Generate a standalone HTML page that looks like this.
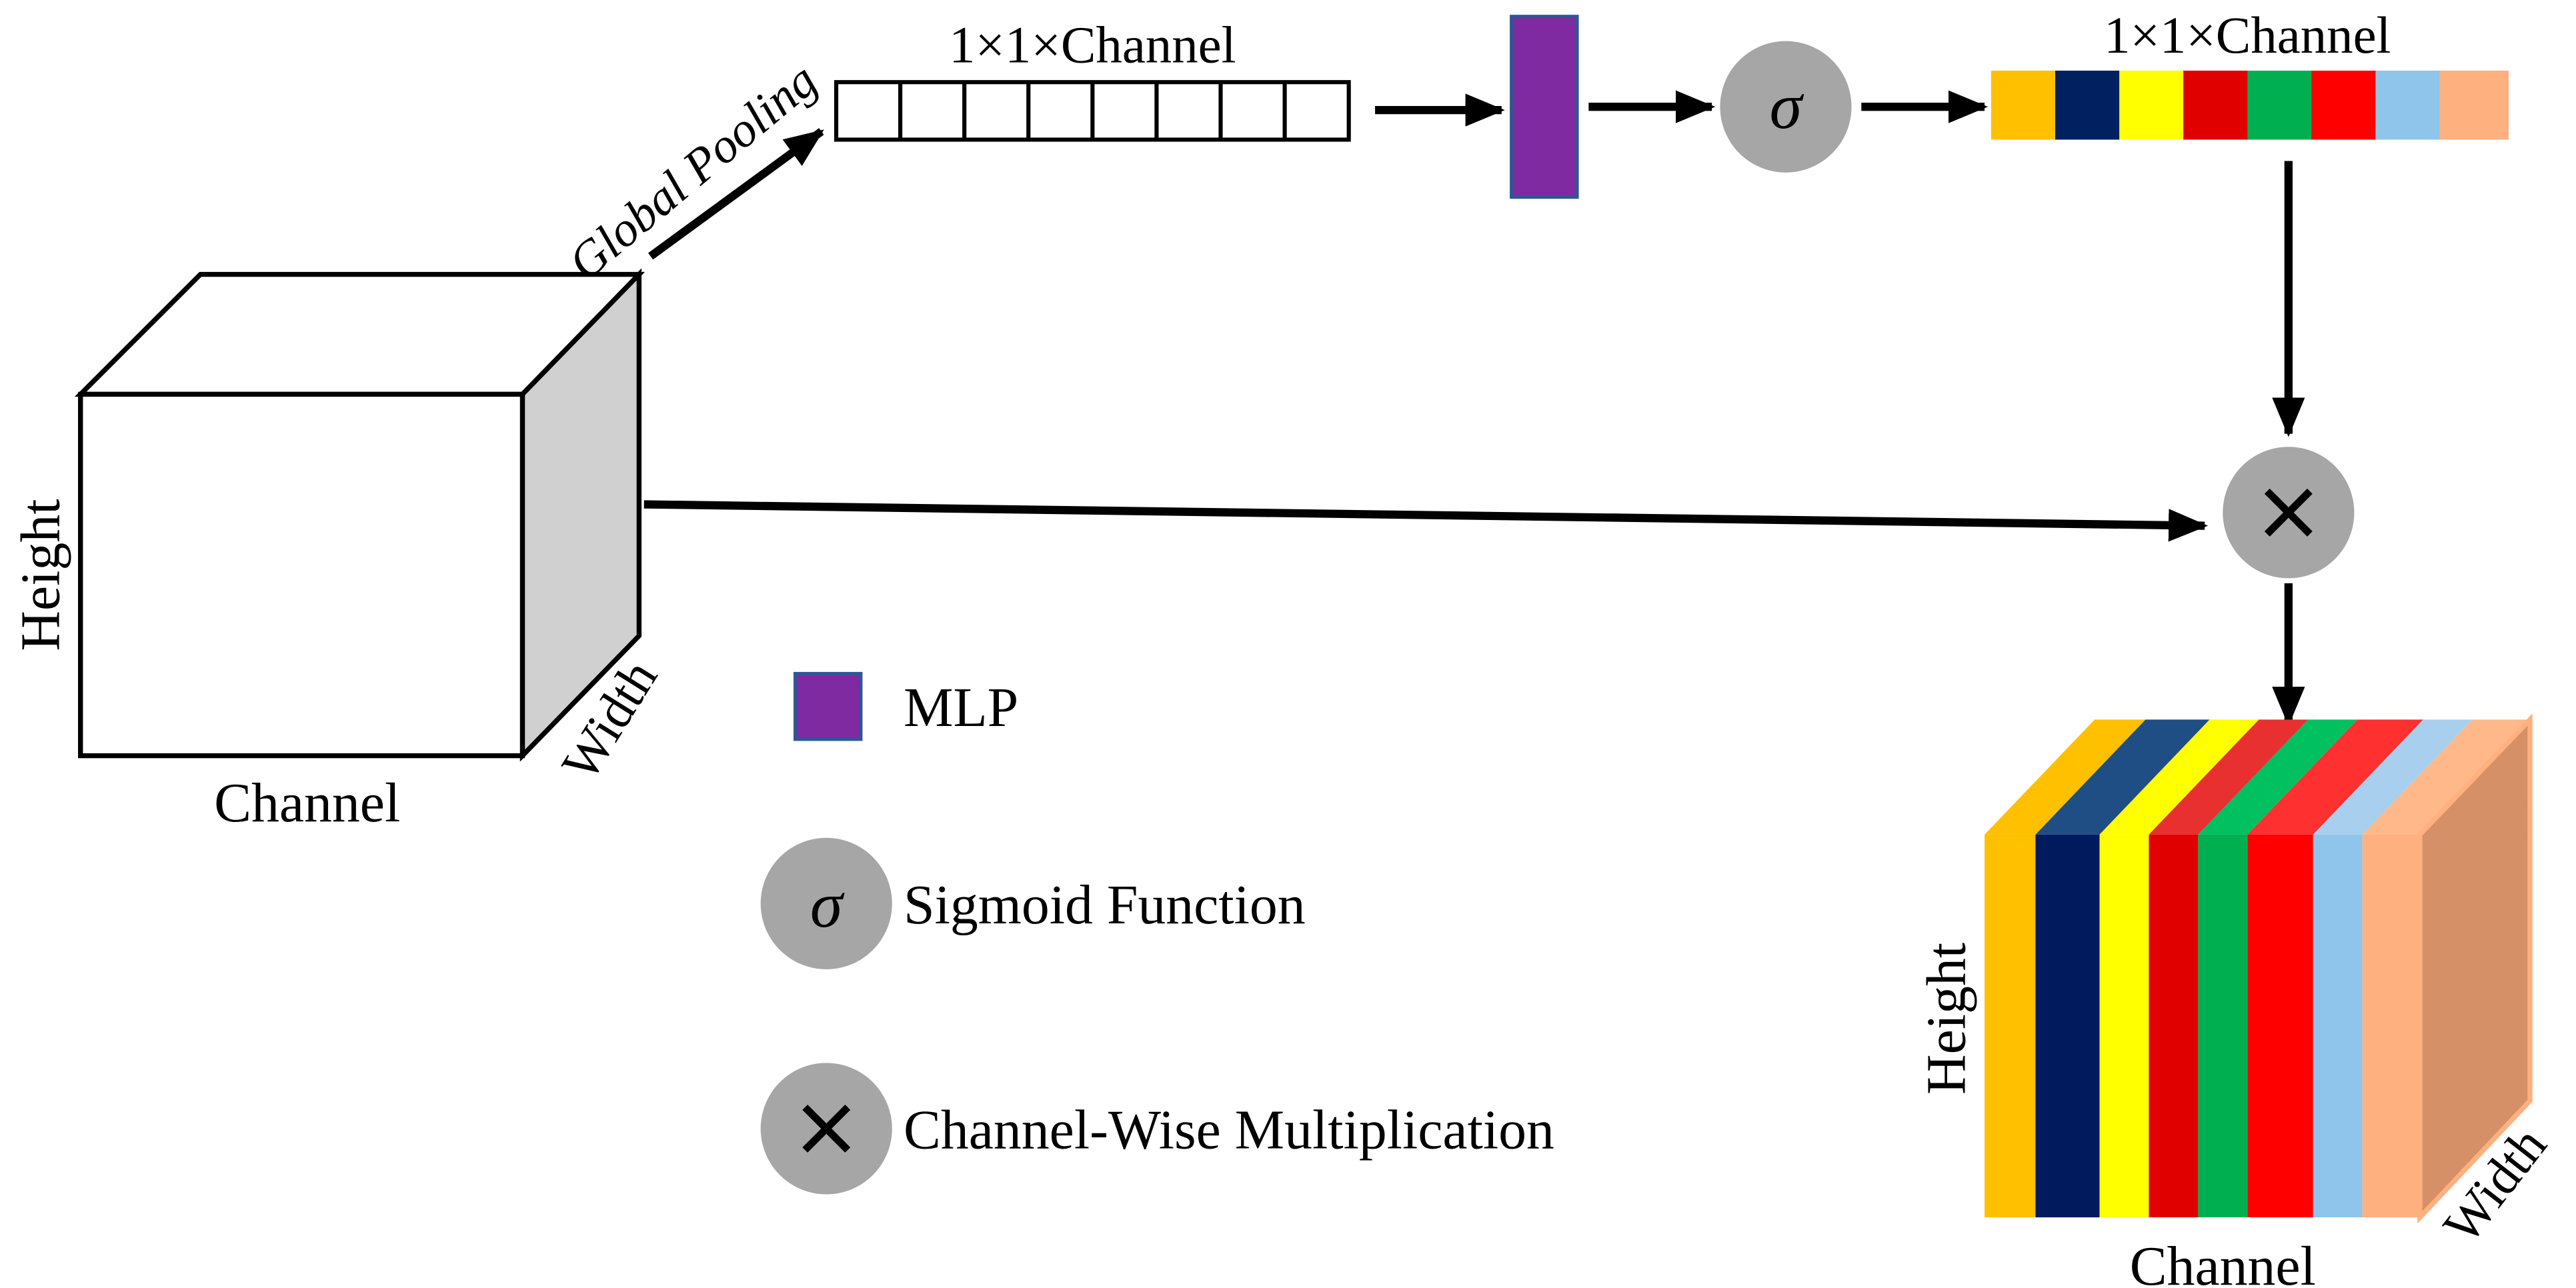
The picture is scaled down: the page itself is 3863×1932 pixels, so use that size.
<!DOCTYPE html>
<html><head><meta charset="utf-8"><style>
html,body{margin:0;padding:0;background:#fff;}
svg{display:block;}
text{font-family:"Liberation Serif","DejaVu Serif",serif;fill:#000;}
</style></head><body>
<svg width="3863" height="1932" viewBox="0 0 1568 784" preserveAspectRatio="none" xmlns="http://www.w3.org/2000/svg" font-family="Liberation Serif, serif">
<defs>
<marker id="ah" markerWidth="24" markerHeight="20" refX="22" refY="10" orient="auto" markerUnits="userSpaceOnUse">
<path d="M0,0 L24,10 L0,20 z" fill="#000"/></marker>
</defs>
<g stroke="#000" stroke-width="3" stroke-linejoin="miter">
<polygon points="49,240 122,167 389,167 318,240" fill="#fff"/>
<polygon points="318,240 389,167 389,387 318,460" fill="#d0d0d0"/>
<rect x="49" y="240" width="269" height="220" fill="#fff"/>
</g>
<text x="0" y="0" font-size="34" text-anchor="middle" transform="translate(36,350) rotate(-90)">Height</text>
<text x="187" y="500" font-size="34" text-anchor="middle">Channel</text>
<text x="0" y="0" font-size="32" text-anchor="middle" transform="translate(380,444) rotate(-58)">Width</text>
<line x1="396" y1="156" x2="500" y2="80" stroke="#000" stroke-width="5" marker-end="url(#ah)"/>
<text x="0" y="0" font-size="30" font-style="italic" text-anchor="middle" transform="translate(428,112) rotate(-40)">Global Pooling</text>
<g stroke="#000" stroke-width="2.5" fill="#fff">
<rect x="509" y="50" width="312" height="35"/>
<line x1="548" y1="50" x2="548" y2="85"/><line x1="587" y1="50" x2="587" y2="85"/>
<line x1="626" y1="50" x2="626" y2="85"/><line x1="665" y1="50" x2="665" y2="85"/>
<line x1="704" y1="50" x2="704" y2="85"/><line x1="743" y1="50" x2="743" y2="85"/>
<line x1="782" y1="50" x2="782" y2="85"/>
</g>
<text x="665" y="38" font-size="32" text-anchor="middle">1×1×Channel</text>
<line x1="837" y1="67" x2="914" y2="67" stroke="#000" stroke-width="5" marker-end="url(#ah)"/>
<rect x="920" y="10" width="40" height="110" fill="#7f2aa0" stroke="#2f5597" stroke-width="2"/>
<line x1="967" y1="65" x2="1042" y2="65" stroke="#000" stroke-width="5" marker-end="url(#ah)"/>
<circle cx="1087" cy="65" r="40" fill="#a6a6a6"/>
<text x="1087" y="78" font-size="40" font-style="italic" text-anchor="middle">σ</text>
<line x1="1133" y1="65" x2="1208" y2="65" stroke="#000" stroke-width="5" marker-end="url(#ah)"/>
<rect x="1212" y="43" width="40" height="42" fill="#ffc000"/>
<rect x="1251" y="43" width="40" height="42" fill="#002060"/>
<rect x="1290" y="43" width="40" height="42" fill="#ffff00"/>
<rect x="1329" y="43" width="40" height="42" fill="#e00000"/>
<rect x="1368" y="43" width="40" height="42" fill="#00b050"/>
<rect x="1407" y="43" width="40" height="42" fill="#ff0000"/>
<rect x="1446" y="43" width="40" height="42" fill="#8fc5ea"/>
<rect x="1485" y="43" width="42" height="42" fill="#ffb07f"/>
<text x="1368" y="32" font-size="32" text-anchor="middle">1×1×Channel</text>
<line x1="1393" y1="98" x2="1393" y2="264" stroke="#000" stroke-width="5" marker-end="url(#ah)"/>
<circle cx="1393" cy="312" r="40" fill="#a6a6a6"/>
<g stroke="#000" stroke-width="4.5"><line x1="1380" y1="299" x2="1406" y2="325"/><line x1="1406" y1="299" x2="1380" y2="325"/></g>
<line x1="1393" y1="355" x2="1393" y2="440" stroke="#000" stroke-width="5" marker-end="url(#ah)"/>
<line x1="392" y1="307" x2="1342" y2="320" stroke="#000" stroke-width="5" marker-end="url(#ah)"/>
<rect x="484" y="410" width="40" height="40" fill="#7f2aa0" stroke="#2f5597" stroke-width="2"/>
<text x="550" y="442" font-size="34">MLP</text>
<circle cx="503" cy="550" r="40" fill="#a6a6a6"/>
<text x="503" y="564" font-size="40" font-style="italic" text-anchor="middle">σ</text>
<text x="550" y="562" font-size="34">Sigmoid Function</text>
<circle cx="503" cy="687" r="40" fill="#a6a6a6"/>
<g stroke="#000" stroke-width="4.5"><line x1="490" y1="674" x2="516" y2="700"/><line x1="516" y1="674" x2="490" y2="700"/></g>
<text x="550" y="699" font-size="34">Channel-Wise Multiplication</text>
<polygon points="1208,508 1275,438 1306,438 1239,508" fill="#ffc000"/>
<polygon points="1239,508 1306,438 1345,438 1278,508" fill="#1f4e85"/>
<polygon points="1278,508 1345,438 1375,438 1308,508" fill="#ffff00"/>
<polygon points="1308,508 1375,438 1405,438 1338,508" fill="#e83030"/>
<polygon points="1338,508 1405,438 1435,438 1368,508" fill="#00c060"/>
<polygon points="1368,508 1435,438 1475,438 1408,508" fill="#ff3030"/>
<polygon points="1408,508 1475,438 1505,438 1438,508" fill="#a8d0ee"/>
<polygon points="1438,508 1505,438 1540,438 1473,508" fill="#ffb88a"/>
<polygon points="1473,508 1540,438 1540,670 1473,741" fill="#d69068" stroke="#ffb07f" stroke-width="3"/>
<rect x="1208" y="508" width="31" height="233" fill="#ffc000"/>
<rect x="1239" y="508" width="39" height="233" fill="#001a5e"/>
<rect x="1278" y="508" width="30" height="233" fill="#ffff00"/>
<rect x="1308" y="508" width="30" height="233" fill="#e00000"/>
<rect x="1338" y="508" width="30" height="233" fill="#00b050"/>
<rect x="1368" y="508" width="40" height="233" fill="#ff0000"/>
<rect x="1408" y="508" width="30" height="233" fill="#8fc5ea"/>
<rect x="1438" y="508" width="35" height="233" fill="#ffb07f"/>
<text x="0" y="0" font-size="34" text-anchor="middle" transform="translate(1196,620) rotate(-90)">Height</text>
<text x="1353" y="782" font-size="34" text-anchor="middle">Channel</text>
<text x="0" y="0" font-size="32" text-anchor="middle" transform="translate(1527,728) rotate(-52)">Width</text>
</svg>
</body></html>
